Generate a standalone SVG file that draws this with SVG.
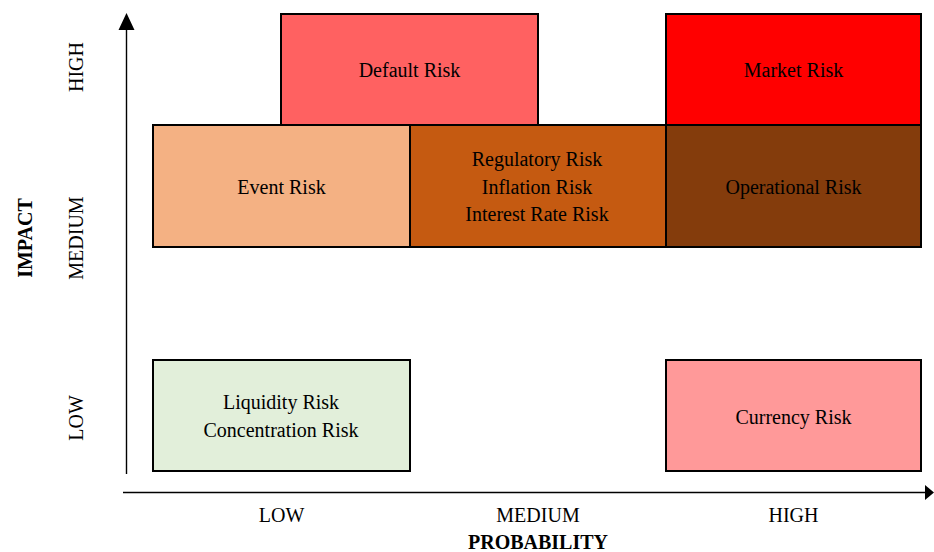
<svg xmlns="http://www.w3.org/2000/svg" width="934" height="552" viewBox="0 0 934 552">
<style>
.box{stroke:#000;stroke-width:2}
.t{font-family:"Liberation Serif","Times New Roman",serif;font-size:20px;fill:#000;text-anchor:middle}
.b{font-weight:bold}
.ax{stroke:#000;stroke-width:1.4;fill:none}
</style>
<rect width="934" height="552" fill="#fff"/>
<g id="connectors">
<line class="ax" x1="126.5" y1="474" x2="126.5" y2="29"/>
<path d="M118.5,30 L126.5,13 L134.5,30 Z" fill="#000"/>
<line class="ax" x1="123" y1="492.5" x2="926" y2="492.5"/>
<path d="M925,485 L934,492.5 L925,500 Z" fill="#000"/>
</g>
<g id="default-risk">
<rect class="box" x="281" y="14" width="257" height="111" fill="#FF6161"/>
<text class="t" x="409.5" y="77">Default Risk</text>
</g>
<g id="market-risk">
<rect class="box" x="666" y="14" width="255" height="111" fill="#FF0000"/>
<text class="t" x="793.5" y="77">Market Risk</text>
</g>
<g id="event-risk">
<rect class="box" x="153" y="125" width="257" height="122" fill="#F4B183"/>
<text class="t" x="281.5" y="194">Event Risk</text>
</g>
<g id="regulatory-risk">
<rect class="box" x="410" y="125" width="256" height="122" fill="#C55A11"/>
<text class="t" x="537" y="166">Regulatory Risk</text>
<text class="t" x="537" y="193.5">Inflation Risk</text>
<text class="t" x="537" y="221">Interest Rate Risk</text>
</g>
<g id="operational-risk">
<rect class="box" x="666" y="125" width="255" height="122" fill="#843C0C"/>
<text class="t" x="793.5" y="194">Operational Risk</text>
</g>
<g id="liquidity-risk">
<rect class="box" x="153" y="360" width="257" height="111" fill="#E2EFDA"/>
<text class="t" x="281" y="409">Liquidity Risk</text>
<text class="t" x="281" y="437">Concentration Risk</text>
</g>
<g id="currency-risk">
<rect class="box" x="666" y="360" width="255" height="111" fill="#FF9999"/>
<text class="t" x="793.5" y="424">Currency Risk</text>
</g>
<g id="axis-labels">
<text class="t" transform="translate(83,67) rotate(-90)">HIGH</text>
<text class="t" transform="translate(83,238) rotate(-90)">MEDIUM</text>
<text class="t" transform="translate(83,418) rotate(-90)">LOW</text>
<text class="t b" transform="translate(32,238) rotate(-90)">IMPACT</text>
<text class="t" x="281.5" y="522">LOW</text>
<text class="t" x="538" y="522">MEDIUM</text>
<text class="t" x="793.5" y="522">HIGH</text>
<text class="t b" x="538" y="549">PROBABILITY</text>
</g>
</svg>
